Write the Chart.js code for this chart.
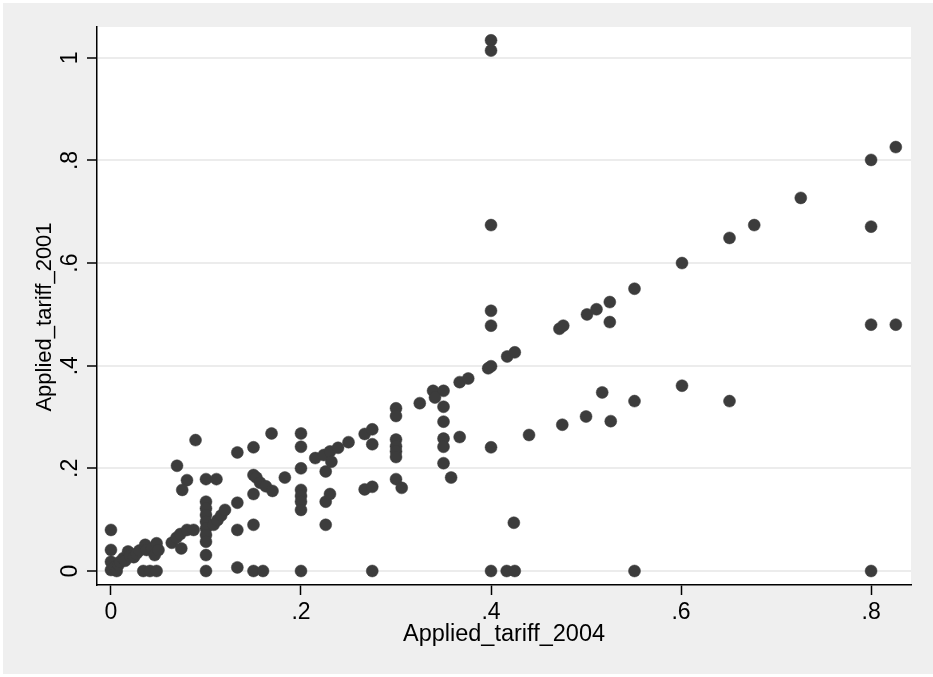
<!DOCTYPE html>
<html><head><meta charset="utf-8">
<script src="https://cdn.jsdelivr.net/npm/chart.js@4"></script>
<style>html,body{margin:0;padding:0;background:#fff;} canvas{display:block;}</style>
</head><body>
<canvas id="c" width="933" height="677"></canvas>
<script>
const tariff2004 = [
 0,0,0,0,0.004,0.006,0.008,0.0095,0.013,0.015,
 0.018,0.020,0.024,0.027,0.030,0.036,0.0375,0.043,0.046,0.048,
 0.050,0.034,0.041,0.048,0.064,0.069,0.074,0.073,0.080,0.087,
 0.0695,0.080,0.075,0.089,0.1,0.111,0.1,0.1,0.1,0.1,
 0.1,0.1,0.1,0.1,0.1,0.108,0.112,0.116,0.12,0.133,
 0.133,0.133,0.133,0.15,0.15,0.153,0.157,0.163,0.170,0.15,
 0.15,0.15,0.16,0.169,0.183,0.2,0.2,0.2,0.2,0.2,
 0.2,0.2,0.2,0.215,0.224,0.2305,0.239,0.232,0.226,0.250,
 0.226,0.2305,0.226,0.267,0.275,0.275,0.267,0.275,0.275,0.3,
 0.3,0.3,0.3,0.3,0.3,0.3,0.306,0.325,0.339,0.35,
 0.341,0.35,0.35,0.35,0.35,0.35,0.358,0.367,0.376,0.367,
 0.4,0.4,0.4,0.4,0.4,0.4,0.397,0.4,0.4,0.417,
 0.425,0.424,0.4165,0.425,0.440,0.472,0.476,0.475,0.501,0.511,
 0.500,0.525,0.525,0.517,0.526,0.551,0.551,0.551,0.601,0.601,
 0.651,0.651,0.677,0.726,0.8,0.8,0.8,0.8,0.826,0.826
];
const tariff2001 = [
 0.080,0.041,0.018,0.002,0.008,0.000,0.012,0.018,0.025,0.020,
 0.038,0.029,0.027,0.034,0.040,0.051,0.041,0.044,0.031,0.054,
 0.041,0,0,0,0.055,0.065,0.044,0.072,0.080,0.080,
 0.205,0.177,0.158,0.255,0.179,0.179,0.135,0.122,0.109,0.096,
 0.083,0.070,0.057,0.031,0,0.090,0.099,0.108,0.119,0.231,
 0.133,0.080,0.007,0.241,0.187,0.182,0.172,0.165,0.156,0.150,
 0.090,0,0,0.268,0.182,0.268,0.242,0.200,0.158,0.146,
 0.135,0.119,0,0.220,0.226,0.233,0.240,0.213,0.194,0.251,
 0.135,0.150,0.090,0.267,0.276,0.247,0.159,0.164,0,0.317,
 0.302,0.256,0.243,0.233,0.222,0.179,0.162,0.327,0.351,0.351,
 0.338,0.320,0.291,0.258,0.242,0.210,0.182,0.368,0.375,0.261,
 1.034,1.014,0.674,0.507,0.478,0.399,0.395,0.241,0,0.418,
 0.426,0.094,0,0,0.265,0.472,0.478,0.285,0.500,0.510,
 0.301,0.524,0.485,0.348,0.292,0.550,0.331,0,0.600,0.361,
 0.649,0.331,0.674,0.727,0.801,0.671,0.480,0,0.826,0.480
];
const xTickValues = [0, 0.2, 0.4, 0.6, 0.8];
const xTickLabels = ['0', '.2', '.4', '.6', '.8'];
const yTickValues = [0, 0.2, 0.4, 0.6, 0.8, 1];
const yTickLabels = ['0', '.2', '.4', '.6', '.8', '1'];
const xTitle = 'Applied_tariff_2004';
const yTitle = 'Applied_tariff_2001';

const FONT = "'Liberation Sans', Arial, sans-serif";
const points = tariff2004.map((x, i) => ({x: x, y: tariff2001[i]}));

const bgPlugin = {
  id: 'bg',
  beforeDraw(chart) {
    const ctx = chart.ctx, a = chart.chartArea;
    ctx.save();
    ctx.fillStyle = '#ffffff';
    ctx.fillRect(0, 0, chart.width, chart.height);
    ctx.fillStyle = '#efefef';
    ctx.fillRect(3, 3, chart.width - 3, chart.height - 6);
    ctx.fillStyle = '#ffffff';
    ctx.fillRect(a.left, a.top, a.right - a.left, a.bottom - a.top);
    ctx.restore();
  },
  afterDraw(chart) {
    const ctx = chart.ctx;
    ctx.save();
    ctx.translate(45, 317);
    ctx.rotate(-Math.PI / 2);
    ctx.font = '22px ' + FONT;
    ctx.fillStyle = '#000';
    ctx.textAlign = 'center';
    ctx.textBaseline = 'middle';
    ctx.fillText(yTitle, 0, 0);
    ctx.restore();
  }
};

new Chart(document.getElementById('c'), {
  type: 'scatter',
  data: {
    datasets: [{
      data: points,
      pointRadius: 6,
      pointBackgroundColor: '#3c3c3c',
      pointBorderColor: '#3c3c3c',
      pointBorderWidth: 0.5
    }]
  },
  plugins: [bgPlugin],
  options: {
    responsive: false,
    animation: false,
    layout: {padding: {left: 0, top: 27, right: 22, bottom: 0}},
    plugins: {legend: {display: false}, tooltip: {enabled: false}},
    scales: {
      x: {
        type: 'linear', min: -0.0147, max: 0.842,
        afterFit(s) { s.height = 92; },
        afterBuildTicks(s) { s.ticks = xTickValues.map(v => ({value: v})); },
        grid: {drawOnChartArea: false, drawTicks: true, tickLength: 10, color: '#000', tickColor: '#000', tickWidth: 1.5},
        border: {display: true, color: '#000', width: 1.5},
        ticks: {callback: (v, i) => xTickLabels[i], color: '#000', font: {family: FONT, size: 23}, padding: 4, maxRotation: 0, minRotation: 0},
        title: {display: true, text: xTitle, color: '#000', font: {family: FONT, size: 23.5}, padding: {top: 0, bottom: 28}}
      },
      y: {
        type: 'linear', min: -0.0273, max: 1.06,
        afterFit(s) { s.width = 97; },
        afterBuildTicks(s) { s.ticks = yTickValues.map(v => ({value: v})); },
        grid: {drawOnChartArea: true, drawTicks: true, tickLength: 10, color: '#ececec', lineWidth: 2, tickColor: '#000', tickWidth: 1.5},
        border: {display: true, color: '#000', width: 1.5},
        ticks: {callback: (v, i) => yTickLabels[i], color: '#000', font: {family: FONT, size: 23}, padding: 7, minRotation: 90, maxRotation: 90, crossAlign: 'center'},
        title: {display: false, text: yTitle}
      }
    }
  }
});
</script>
</body></html>
